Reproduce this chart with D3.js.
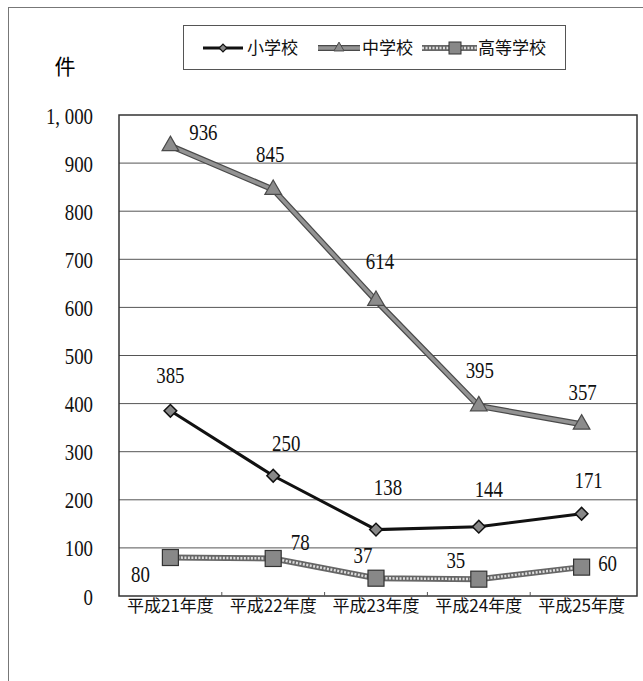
<!DOCTYPE html>
<html>
<head>
<meta charset="utf-8">
<script src="https://cdn.jsdelivr.net/npm/d3@7"></script>
<style>
  body { margin: 0; background: #fff; }
  svg { display: block; }
</style>
</head>
<body>
<div id="container"></div>
<script>
var width = 643, height = 681;

// donnees
var years = ["平成21年度", "平成22年度", "平成23年度", "平成24年度", "平成25年度"];
var elementary = [385, 250, 138, 144, 171];   // 小学校
var juniorHigh = [936, 845, 614, 395, 357];   // 中学校
var highSchool = [80, 78, 37, 35, 60];        // 高等学校
var yTicks = [0, 100, 200, 300, 400, 500, 600, 700, 800, 900, 1000];
var seriesNames = ["小学校", "中学校", "高等学校"];

// decalage des etiquettes (px) par rapport au point
var elemLabelDx = [0, 13, 12, 10, 7], elemLabelDy = [-36, -33, -43, -38, -34];
var juniorLabelDx = [33, -3, 4, 1, 1], juniorLabelDy = [-14, -36, -40, -36, -32];
var highLabelDx = [-30, 27, -13, -23, 26], highLabelDy = [16, -17, -23, -19, -4];

var plot = { left: 119, top: 115, right: 637, bottom: 596 };
var numFont = "Liberation Serif";
var jpFont = "Noto Sans CJK JP";
var sx = 0.82; // texte etroit

var svg = d3.select("#container").append("svg")
    .attr("width", width)
    .attr("height", height);

// cadre exterieur
svg.append("rect")
    .attr("x", 8.5).attr("y", 7.5)
    .attr("width", 700).attr("height", 700)
    .attr("fill", "none").attr("stroke", "#777").attr("stroke-width", 1);

var x = d3.scaleBand().domain(years).range([plot.left, 633]);
var y = d3.scaleLinear().domain([0, 1000]).range([plot.bottom, plot.top]);
function cx(i) { return x(years[i]) + x.bandwidth() / 2; }

// grille
svg.append("g").selectAll("line")
    .data(yTicks.filter(function(t) { return t > 0 && t < 1000; }))
    .enter().append("line")
    .attr("x1", plot.left).attr("x2", plot.right)
    .attr("y1", function(d) { return y(d); }).attr("y2", function(d) { return y(d); })
    .attr("stroke", "#555").attr("stroke-width", 1);

// bordure de la zone de trace
svg.append("rect")
    .attr("x", plot.left).attr("y", plot.top)
    .attr("width", plot.right - plot.left).attr("height", plot.bottom - plot.top)
    .attr("fill", "none").attr("stroke", "#333").attr("stroke-width", 1.5);

// petites graduations en bas
svg.append("g").selectAll("line")
    .data(years.slice(1))
    .enter().append("line")
    .attr("x1", function(d) { return x(d); }).attr("x2", function(d) { return x(d); })
    .attr("y1", plot.bottom).attr("y2", plot.bottom - 4)
    .attr("stroke", "#555").attr("stroke-width", 1);

// axe Y
var yAxis = svg.append("g")
    .attr("transform", "translate(" + plot.left + ",0)")
    .call(d3.axisLeft(y).tickValues(yTicks).tickSize(0)
        .tickFormat(function(d) { return d3.format(",")(d).replace(",", ", "); }));
yAxis.attr("font-family", numFont).attr("font-size", 23);
yAxis.select(".domain").remove();
yAxis.selectAll("text")
    .attr("x", -26 / sx)
    .attr("dy", "0.35em")
    .attr("transform", "scale(" + sx + ",1)")
    .attr("fill", "#111");

// axe X
var xAxis = svg.append("g")
    .attr("transform", "translate(0," + plot.bottom + ")")
    .call(d3.axisBottom(x).tickSize(0).tickPadding(4));
xAxis.attr("font-family", jpFont).attr("font-size", 17);
xAxis.select(".domain").remove();
xAxis.selectAll("text").attr("fill", "#111");

// unite
svg.append("text")
    .attr("x", 65).attr("y", 67).attr("dy", "0.35em")
    .attr("text-anchor", "middle")
    .attr("font-family", jpFont).attr("font-size", 21)
    .text("件");

var line = d3.line().x(function(d, i) { return cx(i); }).y(function(d) { return y(d); });

// 中学校
svg.append("path").datum(juniorHigh).attr("d", line)
    .attr("fill", "none").attr("stroke", "#4a4a4a").attr("stroke-width", 6);
svg.append("path").datum(juniorHigh).attr("d", line)
    .attr("fill", "none").attr("stroke", "#939393").attr("stroke-width", 3.5);
svg.append("g").selectAll("path").data(juniorHigh).enter().append("path")
    .attr("d", d3.symbol().type(d3.symbolTriangle).size(120))
    .attr("transform", function(d, i) { return "translate(" + cx(i) + "," + y(d) + ")"; })
    .attr("fill", "#8c8c8c").attr("stroke", "#4a4a4a").attr("stroke-width", 1.2);

// 高等学校
svg.append("path").datum(highSchool).attr("d", line)
    .attr("fill", "none").attr("stroke", "#666").attr("stroke-width", 6);
svg.append("path").datum(highSchool).attr("d", line)
    .attr("fill", "none").attr("stroke", "#ddd").attr("stroke-width", 2.5)
    .attr("stroke-dasharray", "2,1.5");
svg.append("g").selectAll("rect").data(highSchool).enter().append("rect")
    .attr("x", function(d, i) { return cx(i) - 8; })
    .attr("y", function(d) { return y(d) - 8; })
    .attr("width", 16).attr("height", 16)
    .attr("fill", "#888").attr("stroke", "#333").attr("stroke-width", 1.2);

// 小学校
svg.append("path").datum(elementary).attr("d", line)
    .attr("fill", "none").attr("stroke", "#111").attr("stroke-width", 3);
svg.append("g").selectAll("path").data(elementary).enter().append("path")
    .attr("d", d3.symbol().type(d3.symbolSquare).size(80))
    .attr("transform", function(d, i) { return "translate(" + cx(i) + "," + y(d) + ") rotate(45)"; })
    .attr("fill", "#888").attr("stroke", "#111").attr("stroke-width", 1.5);

// etiquettes
function labels(data, dxs, dys) {
    svg.append("g").attr("font-family", numFont).attr("font-size", 23)
        .selectAll("text").data(data).enter().append("text")
        .attr("transform", function(d, i) {
            return "translate(" + (cx(i) + dxs[i]) + "," + (y(d) + dys[i]) + ") scale(" + sx + ",1)";
        })
        .attr("dy", "0.35em")
        .attr("text-anchor", "middle")
        .attr("fill", "#111")
        .text(function(d) { return d; });
}
labels(elementary, elemLabelDx, elemLabelDy);
labels(juniorHigh, juniorLabelDx, juniorLabelDy);
labels(highSchool, highLabelDx, highLabelDy);

// legende
var legend = svg.append("g");
legend.append("rect")
    .attr("x", 183.5).attr("y", 25.5).attr("width", 382).attr("height", 44)
    .attr("fill", "#fff").attr("stroke", "#555").attr("stroke-width", 1);

var legY = 48;
// 小学校
legend.append("line").attr("x1", 203).attr("x2", 243).attr("y1", legY).attr("y2", legY)
    .attr("stroke", "#111").attr("stroke-width", 3);
legend.append("path").attr("d", d3.symbol().type(d3.symbolSquare).size(30))
    .attr("transform", "translate(223," + legY + ") rotate(45)")
    .attr("fill", "#888").attr("stroke", "#111").attr("stroke-width", 1.2);
// 中学校
legend.append("line").attr("x1", 318).attr("x2", 360).attr("y1", legY).attr("y2", legY)
    .attr("stroke", "#4a4a4a").attr("stroke-width", 6);
legend.append("line").attr("x1", 318).attr("x2", 360).attr("y1", legY).attr("y2", legY)
    .attr("stroke", "#939393").attr("stroke-width", 3.5);
legend.append("path").attr("d", d3.symbol().type(d3.symbolTriangle).size(45))
    .attr("transform", "translate(339," + legY + ")")
    .attr("fill", "#8c8c8c").attr("stroke", "#4a4a4a").attr("stroke-width", 1);
// 高等学校
legend.append("line").attr("x1", 422).attr("x2", 477).attr("y1", legY).attr("y2", legY)
    .attr("stroke", "#666").attr("stroke-width", 6);
legend.append("line").attr("x1", 422).attr("x2", 477).attr("y1", legY).attr("y2", legY)
    .attr("stroke", "#ddd").attr("stroke-width", 2.5).attr("stroke-dasharray", "2,1.5");
legend.append("rect").attr("x", 449).attr("y", legY - 6).attr("width", 12).attr("height", 12)
    .attr("fill", "#888").attr("stroke", "#333").attr("stroke-width", 1);

var legTextX = [247, 362, 478];
legend.selectAll("text.leg").data(seriesNames).enter().append("text")
    .attr("class", "leg")
    .attr("x", function(d, i) { return legTextX[i]; })
    .attr("y", legY).attr("dy", "0.35em")
    .attr("font-family", jpFont).attr("font-size", 17).attr("fill", "#111")
    .text(function(d) { return d; });
</script>
</body>
</html>
